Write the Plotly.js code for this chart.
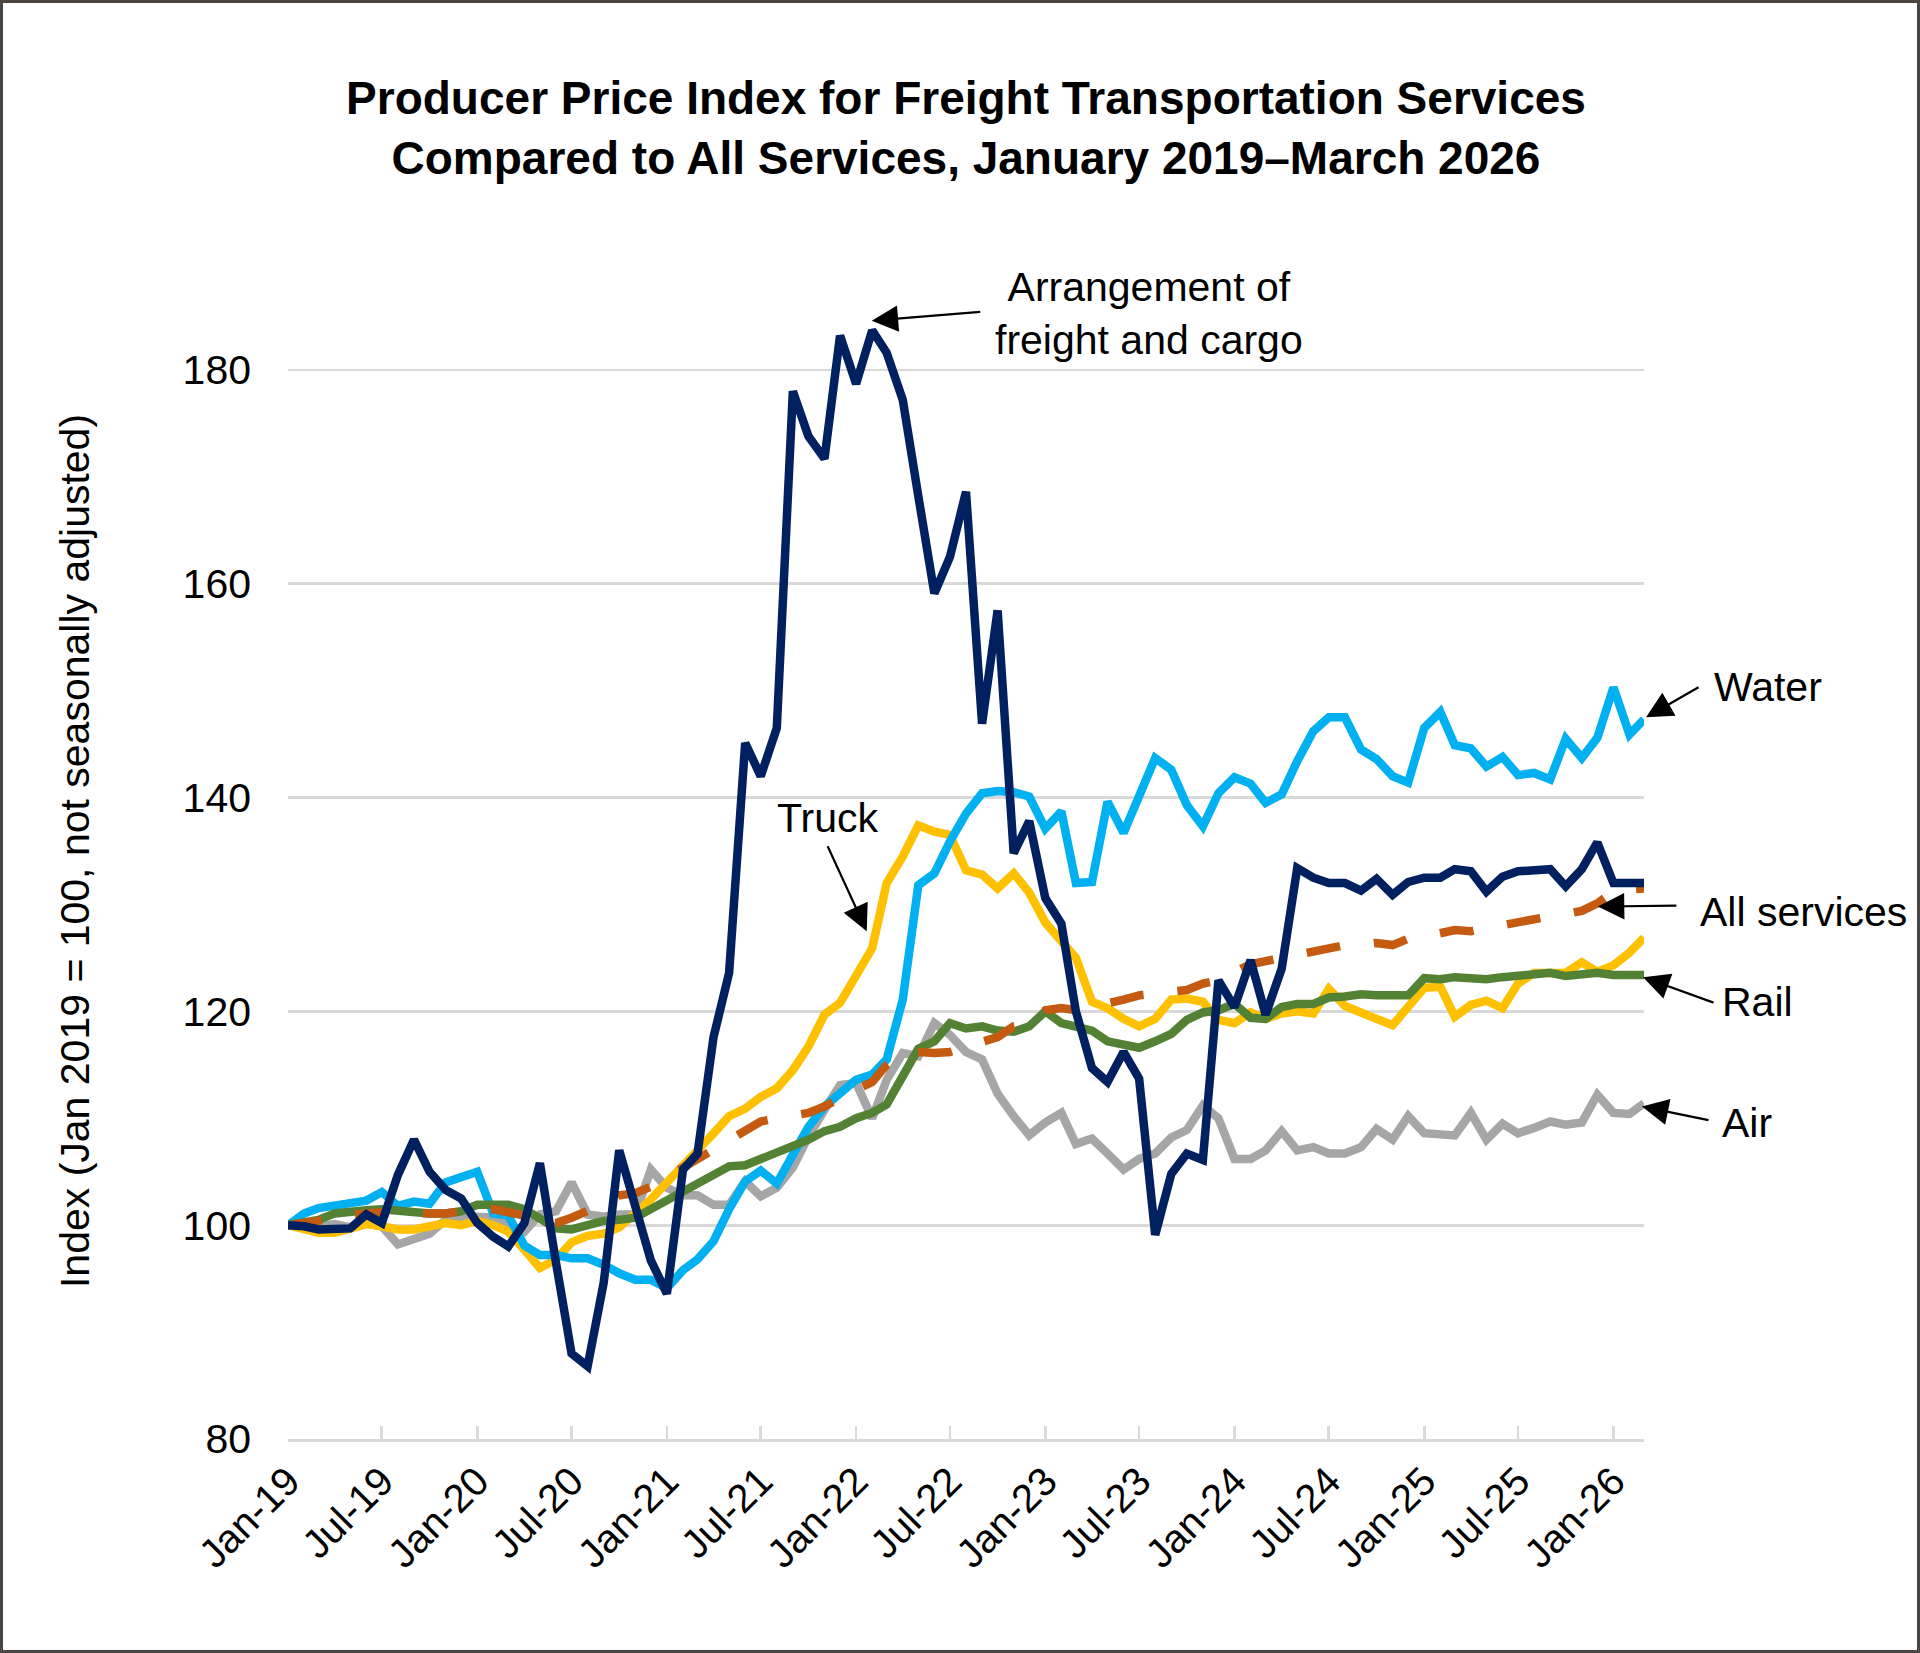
<!DOCTYPE html>
<html>
<head>
<meta charset="utf-8">
<script src="https://cdn.plot.ly/plotly-3.0.1.min.js"></script>
<style>
  html, body { margin: 0; padding: 0; background: #fff; }
  #chart { width: 1920px; height: 1653px; box-sizing: border-box; border: 3px solid #4a4540; }
</style>
</head>
<body>
<div id="chart"></div>
<script>
// monthly index, Jan 2019 = 100 (Jan-19 .. Mar-26)
const arrangement = [
  100.0, 99.9, 99.6, 99.6, 99.7, 101.0, 100.2, 104.7, 108.0, 105.0, 103.3, 102.5,
  100.2, 98.9, 98.0, 100.2, 105.8, 96.5, 88.0, 86.8, 94.6, 107.0, 101.7, 96.7,
  93.6, 105.2, 106.7, 117.6, 123.6, 145.1, 142.0, 146.5, 178.0, 173.8, 171.7, 183.2,
  178.7, 183.7, 181.6, 177.2, 168.2, 159.1, 162.5, 168.6, 146.9, 157.5, 134.8, 137.8,
  130.6, 128.2, 120.0, 114.7, 113.4, 116.2, 113.7, 99.1, 104.8, 106.7, 106.1, 122.9,
  120.4, 124.8, 119.7, 124.0, 133.4, 132.5, 132.0, 132.0, 131.3, 132.4, 130.9, 132.1,
  132.5, 132.5, 133.3, 133.1, 131.2, 132.6, 133.1, 133.2, 133.3, 131.7, 133.3, 135.8,
  132.0, 132.0, 132.0
];
const water = [
  100.0, 101.1, 101.6, 101.9, 102.2, 102.3, 103.1, 101.8, 102.2, 102.0, 104.0, 104.5,
  105.0, 101.1, 100.9, 98.1, 97.2, 97.2, 96.9, 96.9, 96.3, 95.5, 94.9, 94.9,
  94.1, 95.8, 96.8, 98.5, 101.5, 104.1, 105.1, 103.9, 106.4, 109.2, 111.1, 112.3,
  113.6, 114.1, 115.5, 121.1, 131.8, 132.9, 135.9, 138.5, 140.4, 140.6, 140.5, 140.1,
  137.1, 138.7, 132.0, 132.1, 139.6, 136.7, 140.1, 143.7, 142.6, 139.3, 137.3, 140.4,
  141.9, 141.3, 139.5, 140.3, 143.4, 146.2, 147.5, 147.5, 144.5, 143.6, 142.0, 141.4,
  146.5, 148.0, 144.9, 144.6, 142.9, 143.8, 142.1, 142.3, 141.7, 145.5, 143.7, 145.6,
  150.3, 145.9, 147.3
];
const truck = [
  100.0, 99.6, 99.3, 99.3, 99.6, 100.1, 99.9, 99.6, 99.6, 99.9, 100.2, 100.0,
  100.4, 100.0, 99.4, 97.7, 96.0, 96.8, 98.4, 99.0, 99.2, 99.8, 101.1, 102.4,
  104.0, 105.7, 107.0, 108.6, 110.2, 110.9, 112.0, 112.8, 114.5, 116.7, 119.7, 120.8,
  123.3, 125.9, 132.0, 134.5, 137.4, 136.8, 136.5, 133.2, 132.8, 131.5, 132.9, 131.1,
  128.3, 126.5, 125.0, 120.9, 120.3, 119.3, 118.6, 119.3, 121.1, 121.2, 120.9, 119.2,
  118.9, 119.9, 119.3, 119.8, 120.0, 119.8, 122.1, 120.5, 119.8, 119.3, 118.7, 120.3,
  122.2, 122.3, 119.5, 120.6, 121.0, 120.3, 122.6, 123.6, 123.5, 123.6, 124.6, 123.7,
  124.3, 125.5, 126.9
];
const rail = [
  100.0, 100.2, 100.5, 101.1, 101.3, 101.4, 101.5, 101.3, 101.1, 101.1, 101.1, 101.3,
  101.9, 102.0, 101.9, 101.5, 100.5, 99.7, 99.6, 100.0, 100.4, 100.5, 100.7, 101.5,
  102.3, 103.2, 104.0, 104.8, 105.5, 105.6, 106.2, 106.8, 107.3, 108.0, 108.8, 109.2,
  110.0, 110.5, 111.3, 113.9, 116.5, 117.2, 118.9, 118.4, 118.6, 118.2, 118.1, 118.6,
  120.0, 118.9, 118.5, 118.2, 117.2, 116.8, 116.6, 117.2, 117.9, 119.2, 119.9, 120.1,
  120.7, 119.4, 119.3, 120.4, 120.7, 120.7, 121.3, 121.4, 121.6, 121.5, 121.4, 121.5,
  123.1, 123.0, 123.2, 123.0, 123.0, 123.2, 123.3, 123.4, 123.6, 123.3, 123.5, 123.6,
  123.4, 123.4, 123.4
];
const air = [
  100.0, 99.8, 99.9, 100.1, 99.8, 100.2, 99.9, 98.2, 98.7, 99.2, 100.5, 100.8,
  100.8, 100.7, 100.0, 99.4, 101.0, 101.3, 104.0, 101.0, 100.8, 101.0, 101.0, 105.2,
  103.5, 102.8, 102.8, 101.9, 101.9, 104.1, 102.7, 103.5, 105.4, 108.3, 110.8, 113.1,
  113.3, 110.0, 113.6, 116.1, 115.8, 118.9, 117.8, 116.2, 115.5, 112.3, 110.2, 108.4,
  109.6, 110.5, 107.6, 108.1, 106.7, 105.2, 106.2, 106.7, 108.2, 108.9, 111.2, 110.0,
  106.2, 106.2, 107.0, 108.8, 107.0, 107.3, 106.7, 106.7, 107.3, 109.0, 108.0, 110.2,
  108.6, 108.5, 108.4, 110.5, 108.0, 109.5, 108.6, 109.1, 109.7, 109.4, 109.6, 112.2,
  110.5, 110.4, 111.4
];
const allServices = [
  100.0, 100.2, 100.4, 100.8, 101.0, 101.1, 101.2, 101.1, 101.1, 101.1, 101.1, 101.3,
  101.5, 101.5, 101.2, 100.9, 100.0, 100.2, 100.7, 101.3, 102.0, 102.8, 103.0, 103.6,
  104.5, 105.3, 106.2, 107.2, 108.0, 108.9, 109.7, 110.0, 110.2, 110.5, 111.1, 112.0,
  112.7, 113.4, 115.0, 116.1, 116.2, 116.1, 116.2, 116.7, 117.2, 117.6, 118.6, 118.9,
  120.1, 120.3, 120.1, 120.4, 120.7, 121.1, 121.5, 121.7, 121.7, 122.0, 122.6, 122.9,
  123.7, 124.4, 124.7, 125.0, 125.3, 125.7, 126.0, 126.2, 126.2, 126.4, 126.2, 126.8,
  127.0, 127.4, 127.6, 127.5, 127.8, 128.1, 128.4, 128.6, 128.9, 129.1, 129.4, 130.1,
  131.2, 131.4, 131.5
];
const tickText = ['Jan-19', 'Jul-19', 'Jan-20', 'Jul-20', 'Jan-21', 'Jul-21', 'Jan-22', 'Jul-22',
                  'Jan-23', 'Jul-23', 'Jan-24', 'Jul-24', 'Jan-25', 'Jul-25', 'Jan-26'];

// first-of-month dates from Jan 2019
function monthDates(n) {
  const out = [];
  for (let i = 0; i < n; i++) {
    const y = 2019 + Math.floor(i / 12), m = (i % 12) + 1;
    out.push(y + '-' + (m < 10 ? '0' : '') + m + '-01');
  }
  return out;
}
const months = monthDates(arrangement.length);
const tickVals = months.filter((d, i) => i % 6 === 0);

const FONT = 'Arial, "Liberation Sans", sans-serif';
const LW = 8.5;

function series(y, color, dash) {
  return {
    x: months, y: y, type: 'scatter', mode: 'lines',
    line: { color: color, width: LW, dash: dash || 'solid' }, hoverinfo: 'skip'
  };
}

const data = [
  series(air, '#A6A6A6'),
  series(truck, '#FFC000'),
  series(water, '#00B0F0'),
  series(rail, '#548235'),
  series(allServices, '#C55A11', '34px,34px'),
  series(arrangement, '#002060')
];

function arrow(x, y, ax, ay) {
  return { xref: 'paper', yref: 'y', x: x, y: y, ax: ax, ay: ay, text: ' ',
           font: { size: 1 }, showarrow: true, arrowhead: 2, arrowsize: 2.4,
           arrowwidth: 2.2, arrowcolor: '#000', standoff: 0 };
}
function label(text, x, y, anchor) {
  return { xref: 'paper', yref: 'y', x: x, y: y, text: text, showarrow: false,
           xanchor: anchor, yanchor: 'middle', align: 'center',
           font: { family: FONT, size: 41, color: '#000' } };
}

const layout = {
  width: 1914, height: 1647,
  margin: { l: 285, r: 273, t: 260, b: 211 },
  paper_bgcolor: '#fff', plot_bgcolor: '#fff',
  showlegend: false,
  font: { family: FONT, color: '#000' },
  title: {
    text: '<b>Producer Price Index for Freight Transportation Services<br>Compared to All Services, January 2019–March 2026</b>',
    font: { family: FONT, size: 46, color: '#000' },
    x: 0.5, xref: 'paper', xanchor: 'center',
    y: 1 - 111 / 1647, yref: 'container', yanchor: 'middle'
  },
  xaxis: {
    type: 'date', range: [months[0], months[months.length - 1]],
    tickmode: 'array', tickvals: tickVals, ticktext: tickText, tickangle: -45,
    tickfont: { family: FONT, size: 40, color: '#000' },
    showgrid: false, zeroline: false,
    showline: true, linecolor: '#d9d9d9', linewidth: 2.7,
    ticks: 'inside', ticklen: 13, tickwidth: 2.7, tickcolor: '#d9d9d9'
  },
  yaxis: {
    range: [80, 190], tick0: 80, dtick: 20,
    tickfont: { family: FONT, size: 41, color: '#000' },
    showgrid: true, gridcolor: '#d9d9d9', gridwidth: 2.7,
    zeroline: false, showline: false, ticks: '',
    ticklabelstandoff: 36, automargin: true,
    title: { text: 'Index (Jan 2019 = 100, not seasonally adjusted)',
             font: { family: FONT, size: 41, color: '#000' }, standoff: 80 }
  },
  annotations: [
    arrow(0.4305, 184.6, 110, -9),
    arrow(0.4268, 127.5, -40, -87),
    arrow(1.0015, 147.5, 54, -31),
    arrow(0.966, 129.8, 80, -1),
    arrow(0.9993, 123.2, 72, 26),
    arrow(0.9985, 111.1, 68, 14),
    label('Arrangement of<br>freight and cargo', 0.635, 185.3, 'center'),
    label('Truck', 0.398, 138.1, 'center'),
    label('Water', 1.0501, 150.3, 'left'),
    label('All services', 1.0398, 129.3, 'left'),
    label('Rail', 1.056, 120.9, 'left'),
    label('Air', 1.056, 109.6, 'left')
  ]
};

Plotly.newPlot('chart', data, layout, { displayModeBar: false, staticPlot: true });
</script>
</body>
</html>
